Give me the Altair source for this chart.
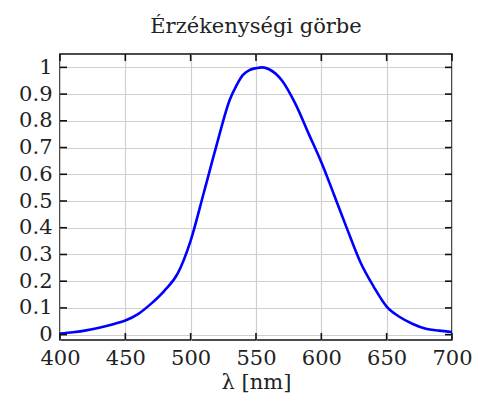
import altair as alt
import pandas as pd

# Wavelength (nm) and relative sensitivity
wavelength = [400, 410, 420, 430, 440, 450, 460, 470, 480, 490, 500, 510, 520,
              530, 535, 540, 545, 550, 555, 560, 570, 580, 590, 600, 610, 620,
              630, 640, 650, 660, 670, 680, 690, 700]
sensitivity = [0.004, 0.009, 0.016, 0.026, 0.038, 0.053, 0.078, 0.117, 0.165, 0.228,
               0.352, 0.53, 0.712, 0.88, 0.932, 0.972, 0.99, 0.997, 1.0, 0.993,
               0.95, 0.865, 0.755, 0.645, 0.52, 0.392, 0.27, 0.18, 0.105, 0.066,
               0.04, 0.022, 0.015, 0.01]

x_ticks = [400, 450, 500, 550, 600, 650, 700]
y_ticks = [0, 0.1, 0.2, 0.3, 0.4, 0.5, 0.6, 0.7, 0.8, 0.9, 1]

W, H = 392, 286
FONT = "DejaVu Serif"
XT = "λ [nm]"

df = pd.DataFrame({"lam": wavelength, "v": sensitivity})
dx = pd.DataFrame({"lam": x_ticks})
dy = pd.DataFrame({"v": y_ticks})

xscale = alt.Scale(domain=[400, 700], nice=False, zero=False)
yscale = alt.Scale(domain=[-0.02, 1.05], nice=False, zero=False)

xaxis = alt.Axis(values=x_ticks, grid=True, ticks=False, domain=False,
                 labelFont=FONT, labelFontSize=21, labelColor="#222",
                 labelPadding=7, titleFont=FONT, titleFontSize=21,
                 titleFontWeight="normal", titleColor="#222", titlePadding=3,
                 gridColor="#cfcfcf", gridWidth=1.2, labelFlush=False,
                 labelOverlap=False)
yaxis = alt.Axis(values=y_ticks, grid=True, ticks=False, domain=False,
                 labelFont=FONT, labelFontSize=21, labelColor="#222",
                 labelPadding=8, gridColor="#cfcfcf", gridWidth=1.2,
                 labelFlush=False, labelOverlap=False,
                 labelExpr="datum.value == 0 ? '0' : datum.value == 1 ? '1' : format(datum.value, '.1f')")

line = alt.Chart(df).mark_line(color="#0000ff", strokeWidth=2.6, interpolate="monotone").encode(
    x=alt.X("lam:Q", scale=xscale, title=XT, axis=xaxis),
    y=alt.Y("v:Q", scale=yscale, title=None, axis=yaxis),
)

tick_style = dict(color="#111", strokeWidth=1.6)
xb = alt.Chart(dx).mark_rule(**tick_style).encode(
    x=alt.X("lam:Q", scale=xscale, title=XT, axis=xaxis), y=alt.value(H), y2=alt.value(H - 7))
xt = alt.Chart(dx).mark_rule(**tick_style).encode(
    x=alt.X("lam:Q", scale=xscale, title=XT, axis=xaxis), y=alt.value(0), y2=alt.value(7))
yl = alt.Chart(dy).mark_rule(**tick_style).encode(
    y=alt.Y("v:Q", scale=yscale, title=None, axis=yaxis), x=alt.value(0), x2=alt.value(7))
yr = alt.Chart(dy).mark_rule(**tick_style).encode(
    y=alt.Y("v:Q", scale=yscale, title=None, axis=yaxis), x=alt.value(W), x2=alt.value(W - 7))

chart = alt.layer(line, xb, xt, yl, yr).properties(
    width=W, height=H,
    title=alt.TitleParams("Érzékenységi görbe", font=FONT, fontSize=21,
                          fontWeight="normal", color="#222", offset=16),
    autosize=alt.AutoSizeParams(type="none"),
    padding={"left": 52, "top": 46, "right": 24, "bottom": 56},
    background="white",
).configure_view(stroke="#111", strokeWidth=1.6)

chart.save("out.html", embed_options={"renderer": "svg", "actions": False})
